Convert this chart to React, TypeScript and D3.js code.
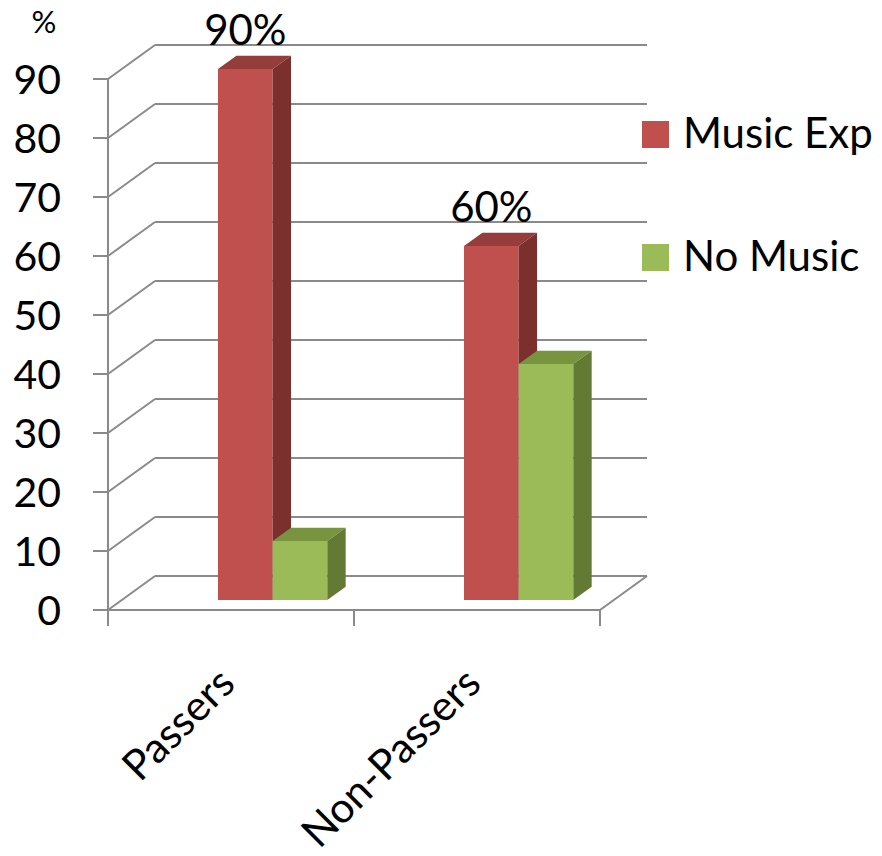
import React from "react";
import * as d3 from "d3";

const categories = ["Passers", "Non-Passers"];
const seriesNames = ["Music Exp", "No Music"];
const musicExp = [90, 60];
const noMusic = [10, 40];
const yTicks = [0, 10, 20, 30, 40, 50, 60, 70, 80, 90];
const dataLabels = ["90%", "60%"];

const W = 882;
const H = 856;
const FONT = "Lato, 'Open Sans', sans-serif";

const colors = [
  { front: "#C0504D", top: "#953D3B", side: "#7B302E" },
  { front: "#9BBB59", top: "#78943F", side: "#637A35" },
];

export default function App() {
  const x0 = 108;
  const x1 = 600;
  const DX = 47; // depth shift x
  const DY = -34; // depth shift y
  const y = d3.scaleLinear().domain([0, 90]).range([610, 79]);
  const xBand = d3.scaleBand<string>().domain(categories).range([x0, x1]).padding(0);
  const bw = xBand.bandwidth();
  const xSeries = d3
    .scaleBand<string>()
    .domain(seriesNames)
    .range([0.391 * bw, 0.8353 * bw])
    .padding(0);
  const dFront = 0.294;
  const dBack = 0.685;
  const P = (x: number, v: number, d: number): [number, number] => [x + DX * d, y(v) + DY * d];
  const poly = (pts: [number, number][]) => pts.map((p) => p.join(",")).join(" ");

  const grid = "#8A8A8A";
  const values = [musicExp, noMusic];

  const bars: React.ReactNode[] = [];
  categories.forEach((c, ci) => {
    seriesNames.forEach((s, si) => {
      const v = values[si][ci];
      const xl = (xBand(c) as number) + (xSeries(s) as number);
      const xr = xl + xSeries.bandwidth();
      const col = colors[si];
      bars.push(
        <g key={c + s}>
          <polygon
            points={poly([P(xl, 0, dFront), P(xr, 0, dFront), P(xr, v, dFront), P(xl, v, dFront)])}
            fill={col.front}
          />
          <polygon
            points={poly([P(xl, v, dFront), P(xr, v, dFront), P(xr, v, dBack), P(xl, v, dBack)])}
            fill={col.top}
          />
          <polygon
            points={poly([P(xr, 0, dFront), P(xr, 0, dBack), P(xr, v, dBack), P(xr, v, dFront)])}
            fill={col.side}
          />
        </g>
      );
    });
  });

  return (
    <svg width={W} height={H} style={{ position: "absolute", left: 0, top: 0 }} fontFamily={FONT}>
      <rect width={W} height={H} fill="#fff" />
      {/* back wall gridlines and left wall diagonals */}
      {yTicks.map((t) => {
        const f = P(x0, t, 0);
        const b = P(x0, t, 1);
        const br = P(x1, t, 1);
        return (
          <g key={t} stroke={grid} strokeWidth={2} fill="none">
            <line x1={f[0]} y1={f[1]} x2={b[0]} y2={b[1]} />
            <line x1={b[0]} y1={b[1]} x2={br[0]} y2={br[1]} />
            <line x1={93} y1={f[1]} x2={x0} y2={f[1]} />
          </g>
        );
      })}
      {/* floor */}
      <g stroke={grid} strokeWidth={2} fill="none">
        <line x1={x0} y1={y(0)} x2={x1} y2={y(0)} />
        <line x1={x1} y1={y(0)} x2={x1 + DX} y2={y(0) + DY} />
        <line x1={x0} y1={y(0)} x2={x0} y2={y(90)} />
        {[x0, ...categories.map((c) => (xBand(c) as number) + bw)].map((xx) => (
          <line key={xx} x1={xx} y1={y(0)} x2={xx} y2={y(0) + 16} />
        ))}
      </g>
      {bars}
      {/* y tick labels */}
      {yTicks.map((t) => (
        <text key={t} x={61} y={y(t)} dy="0.36em" textAnchor="end" fontSize={41} fill="#000">
          {t}
        </text>
      ))}
      <text x={44} y={33} textAnchor="middle" fontSize={31} fill="#000">
        %
      </text>
      {/* data labels */}
      {categories.map((c, ci) => {
        const xl = (xBand(c) as number) + (xSeries(seriesNames[0]) as number);
        const cx = xl + xSeries.bandwidth() / 2 + DX * dFront;
        const top = P(xl, musicExp[ci], dFront)[1];
        return (
          <text key={c} x={cx} y={top - 24} textAnchor="middle" fontSize={42} fill="#000">
            {dataLabels[ci]}
          </text>
        );
      })}
      {/* category labels */}
      {categories.map((c) => {
        const cx = (xBand(c) as number) + bw / 2;
        return (
          <text
            key={c}
            transform={`translate(${cx + 6},${y(0) + 76}) rotate(-45)`}
            textAnchor="end"
            fontSize={42}
            fill="#000"
          >
            {c}
          </text>
        );
      })}
      {/* legend */}
      {seriesNames.map((s, si) => (
        <g key={s} transform={`translate(642,${121 + si * 123})`}>
          <rect width={27} height={27} fill={colors[si].front} />
          <text x={41} y={27} fontSize={42} fill="#000">
            {s}
          </text>
        </g>
      ))}
    </svg>
  );
}
